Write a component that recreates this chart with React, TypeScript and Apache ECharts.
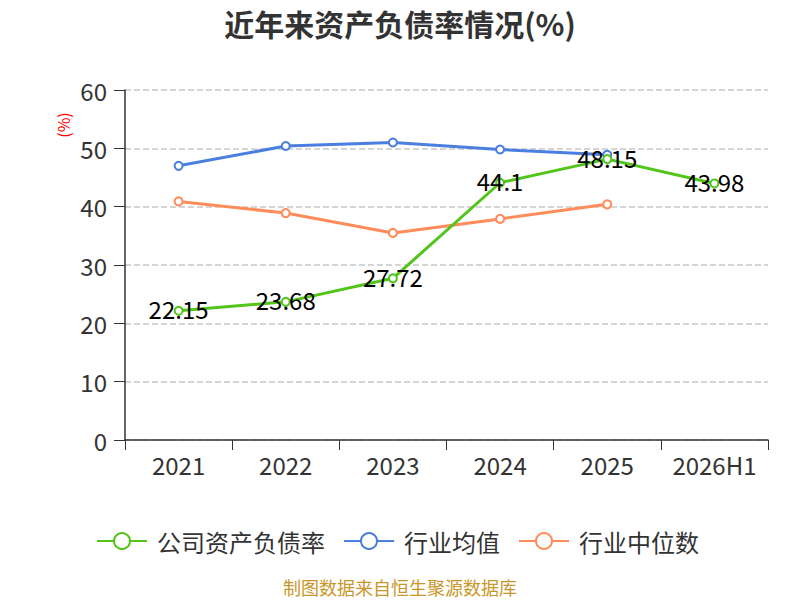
import React, { useEffect, useRef } from "react";
import * as echarts from "echarts";

const categories = ["2021", "2022", "2023", "2024", "2025", "2026H1"];
const companyRatio = [22.15, 23.68, 27.72, 44.1, 48.15, 43.98];
const industryAvg = [47.0, 50.4, 51.0, 49.8, 48.9, null];
const industryMedian = [40.9, 38.9, 35.5, 37.9, 40.4, null];
const yTicks = { min: 0, max: 60, interval: 10 };

const FONT = "'Noto Sans CJK SC', 'Noto Sans', sans-serif";

export default function App() {
  const ref = useRef<HTMLDivElement>(null);
  useEffect(() => {
    if (!ref.current) return;
    document.body.style.margin = "0";
    const chart = echarts.init(ref.current, undefined, { renderer: "svg" });
    chart.setOption({
      animation: false,
      textStyle: { fontFamily: FONT },
      title: {
        text: "近年来资产负债率情况(%)",
        left: "center",
        top: 3,
        textStyle: { fontSize: 30, fontWeight: "bold", color: "#333", fontFamily: FONT },
      },
      grid: { left: 125, right: 32, top: 90, bottom: 160 },
      legend: {
        top: 524,
        left: 91,
        itemWidth: 50,
        itemHeight: 20,
        itemGap: 18,
        textStyle: { fontSize: 24, color: "#333", fontFamily: FONT, padding: [0, 0, 0, 5] },
        data: ["公司资产负债率", "行业均值", "行业中位数"],
      },
      xAxis: {
        type: "category",
        data: categories,
        boundaryGap: true,
        axisLine: { lineStyle: { color: "#333", width: 1.5 } },
        axisTick: { show: true, length: 10, interval: 0, lineStyle: { color: "#333" } },
        axisLabel: { fontSize: 24, color: "#333", margin: 12, interval: 0, fontFamily: FONT },
      },
      yAxis: {
        type: "value",
        min: yTicks.min,
        max: yTicks.max,
        interval: yTicks.interval,
        axisLine: { show: true, lineStyle: { color: "#333", width: 1.5 } },
        axisTick: { show: true, length: 11, lineStyle: { color: "#333" } },
        axisLabel: { fontSize: 24, color: "#333", margin: 18, fontFamily: FONT },
        splitLine: { lineStyle: { color: "#c8c8c8", type: "dashed", width: 1.5 } },
      },
      graphic: [
        {
          type: "text",
          x: 63,
          y: 125,
          rotation: Math.PI / 2,
          style: {
            text: "(%)",
            fill: "#ff0000",
            fontSize: 16,
            fontFamily: FONT,
            align: "center",
            verticalAlign: "middle",
          },
        },
        {
          type: "text",
          x: 400,
          y: 587,
          style: {
            text: "制图数据来自恒生聚源数据库",
            fill: "#c9962a",
            fontSize: 18,
            fontFamily: FONT,
            align: "center",
            verticalAlign: "middle",
          },
        },
      ],
      series: [
        {
          name: "公司资产负债率",
          type: "line",
          data: companyRatio,
          color: "#52c41a",
          symbol: "emptyCircle",
          symbolSize: 8,
          lineStyle: { width: 3, color: "#52c41a" },
          itemStyle: { color: "#52c41a", borderWidth: 2 },
          z: 3,
          label: {
            show: true,
            position: "inside",
            offset: [0, -2],
            color: "#000",
            fontSize: 24,
            fontFamily: FONT,
          },
        },
        {
          name: "行业均值",
          type: "line",
          data: industryAvg,
          color: "#4a7fdf",
          symbol: "emptyCircle",
          symbolSize: 8,
          lineStyle: { width: 3, color: "#4a7fdf" },
          itemStyle: { color: "#4a7fdf", borderWidth: 2 },
          z: 2,
        },
        {
          name: "行业中位数",
          type: "line",
          data: industryMedian,
          color: "#ff8c5a",
          symbol: "emptyCircle",
          symbolSize: 8,
          lineStyle: { width: 3, color: "#ff8c5a" },
          itemStyle: { color: "#ff8c5a", borderWidth: 2 },
          z: 2,
        },
      ],
    });
    return () => chart.dispose();
  }, []);
  return <div ref={ref} style={{ width: 800, height: 600 }} />;
}
